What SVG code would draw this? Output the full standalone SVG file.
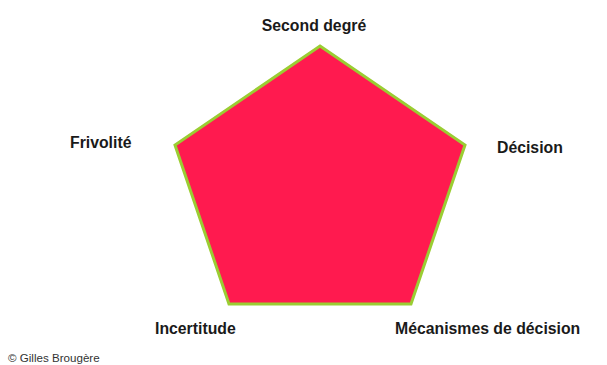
<svg xmlns="http://www.w3.org/2000/svg" width="607" height="365" viewBox="0 0 607 365">
<style>
.lbl{font-family:"Liberation Sans",Arial,sans-serif;font-weight:bold;font-size:15.8px;fill:#1a1a1a}
.copy{font-family:"Liberation Sans",Arial,sans-serif;font-size:11.6px;fill:#333}
</style>
<rect width="607" height="365" fill="#ffffff"/>
<g id="pentagon">
<polygon points="320,46 465,145 411,304 229,304 175,145" fill="#ff1a4f" stroke="#9acd32" stroke-width="3" stroke-linejoin="miter"/>
</g>
<g id="label-second"><text class="lbl" x="314" y="31" text-anchor="middle">Second degré</text></g>
<g id="label-frivolite"><text class="lbl" x="70" y="148">Frivolité</text></g>
<g id="label-decision"><text class="lbl" x="497" y="153">Décision</text></g>
<g id="label-incertitude"><text class="lbl" x="155" y="334">Incertitude</text></g>
<g id="label-mecanismes"><text class="lbl" x="395" y="334">Mécanismes de décision</text></g>
<text class="copy" x="8" y="362">© Gilles Brougère</text>
</svg>
